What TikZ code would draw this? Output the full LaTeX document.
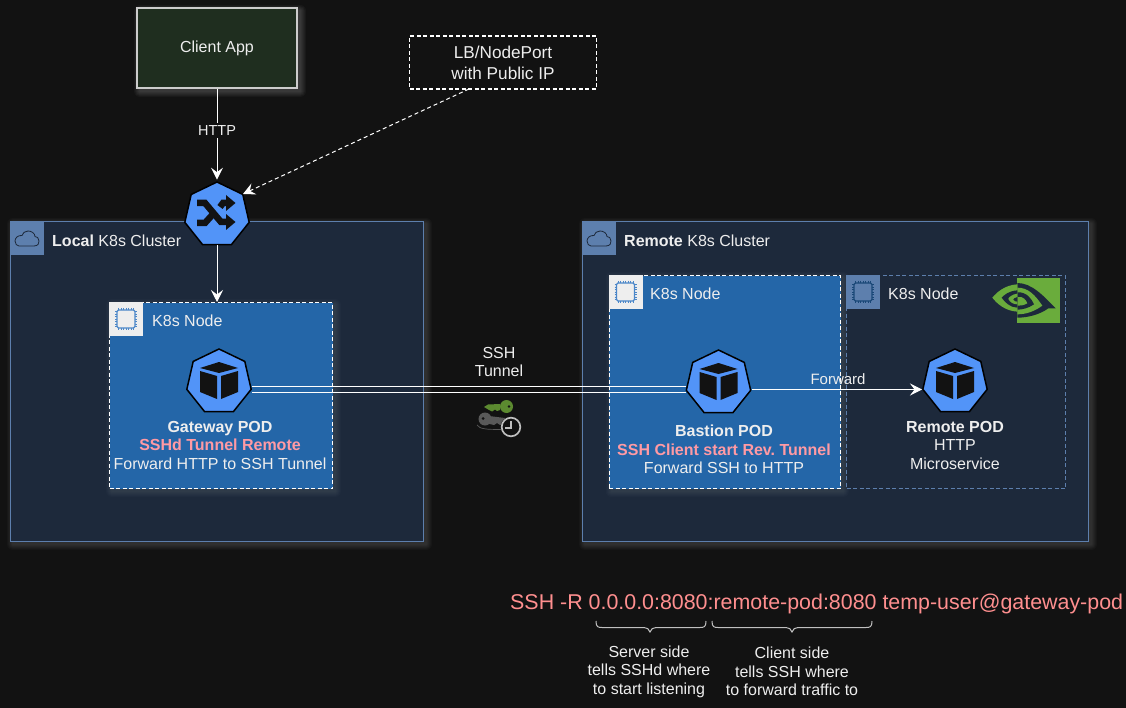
\documentclass[tikz,border=0pt]{standalone}
\usepackage{fontspec}
\setmainfont{Liberation Sans}
\usetikzlibrary{arrows.meta,shapes.geometric,calc}
\frenchspacing
\definecolor{bgc}{HTML}{121212}
\definecolor{clusterc}{HTML}{1D293B}
\definecolor{clusteredge}{HTML}{5D7FAD}
\definecolor{nodeblue}{HTML}{2466A8}
\definecolor{kube}{HTML}{5294F8}
\definecolor{pinkc}{HTML}{FF9AA4}
\definecolor{redc}{HTML}{FF8F8F}
\definecolor{txt}{HTML}{EEEEEE}
\definecolor{nvgreen}{HTML}{6AAC3C}
\definecolor{keygreen}{HTML}{5C8A30}
\definecolor{clientc}{HTML}{1F2E1F}
\definecolor{iconbg}{HTML}{EEEEEE}
\definecolor{chipblue}{HTML}{4A86C8}
\newcommand{\softglow}[5]{% x1 y1 x2 y2 opacity
  \foreach \gi in {1,...,6}{
    \fill[white,fill opacity=#5,rounded corners=\gi pt] ({#1+3-\gi},{#2+3-\gi}) rectangle ({#3+3+\gi},{#4+3+\gi});
  }}
\newcommand{\kubecube}[1]{%
  \begin{scope}[shift={(#1)}]
    \fill[bgc] (-19,-14) -- (0,-20) -- (19,-14) -- (0,-9) -- cycle;
    \fill[bgc] (-19,-11) -- (-2,-6) -- (-2,17) -- (-19,10) -- cycle;
    \fill[bgc] (2,-6) -- (19,-11) -- (19,10) -- (2,17) -- cycle;
  \end{scope}}
\newcommand{\chipicon}[3]{% corner, background, chip colour
  \begin{scope}[shift={(#1)}]
    \fill[#2] (0,0) rectangle (34,34);
    \foreach \pp in {9.5,12,14.5,17,19.5,22,24.5}{
      \draw[#3,line width=.8] (\pp,6) -- (\pp,28);
      \draw[#3,line width=.8] (6,\pp) -- (28,\pp);
    }
    \draw[#3,fill=#2,line width=1.3,rounded corners=1.5] (8,8) rectangle (26,26);
  \end{scope}}
\newcommand{\cloudicon}[1]{%
  \begin{scope}[shift={(#1)}]
    \fill[clusteredge] (0,0) rectangle (34,34);
    \draw[clusterc,line width=.8] (9,25) -- (24,25) .. controls (28,25) and (29.5,22) .. (29,20) .. controls (29,17) and (27,15.5) .. (25,15.5) .. controls (25,12) and (21,10) .. (18,10) .. controls (15,10) and (12.5,12) .. (12,14.5) .. controls (8,14) and (5,17) .. (5,20) .. controls (5,23) and (7,25) .. (9,25) -- cycle;
  \end{scope}}
\tikzset{
  lbl/.style={text=txt,inner sep=0pt,align=center,font=\fontsize{16}{18.5}\selectfont},
  lblleft/.style={lbl,anchor=west},
  kubepoly/.style={regular polygon,regular polygon sides=7,minimum size=66pt,inner sep=0pt,fill=kube,draw=black,line width=1.5pt},
  cluster/.style={draw=clusteredge,fill=clusterc,line width=1.3pt,inner sep=0pt,anchor=north west},
  k8snode/.style={draw=white,dash pattern=on 4pt off 2.5pt,line width=1.4pt,inner sep=0pt,anchor=north west},
  conn/.style={draw=white,line width=1pt,-{Stealth[length=12pt,width=12pt,inset=4.5pt]}},
  plainline/.style={draw=white,line width=1.2pt}
}
\begin{document}
\begin{tikzpicture}[x=1pt,y=-1pt]
\useasboundingbox (0,0) rectangle (1126,708);
\fill[bgc] (0,0) rectangle (1126,708);

% glows
\softglow{137}{8}{297}{88}{0.03}
\softglow{10}{221}{423}{541}{0.022}
\softglow{582}{221}{1088}{541}{0.022}

% clusters
\node[cluster,minimum width=413pt,minimum height=320pt] (localc) at (10,221) {};
\node[cluster,minimum width=506pt,minimum height=320pt] (remotec) at (582,221) {};
\cloudicon{10,221}
\cloudicon{582,221}
\node[lblleft] (localt) at (52,241) {\textbf{Local} K8s Cluster};
\node[lblleft] (remotet) at (624,241) {\textbf{Remote} K8s Cluster};

% k8s nodes
\softglow{109}{302}{332}{488}{0.015}
\softglow{608.5}{275}{840}{488}{0.015}
\node[k8snode,fill=nodeblue,minimum width=223pt,minimum height=186pt] (nodea) at (109,302) {};
\node[k8snode,fill=nodeblue,minimum width=231.5pt,minimum height=213pt] (nodeb) at (608.5,275) {};
\node[k8snode,draw=clusteredge,fill=clusterc,minimum width=219pt,minimum height=213pt] (nodec) at (846,275) {};
\chipicon{109,302}{iconbg}{chipblue}
\chipicon{608.5,275}{iconbg}{chipblue}
\chipicon{846,275}{clusteredge}{nodeblue!70!black}
\node[lblleft] (nodeat) at (152,321) {K8s Node};
\node[lblleft] (nodebt) at (650,294) {K8s Node};
\node[lblleft] (nodect) at (888,294) {K8s Node};

% NVIDIA logo
\begin{scope}[shift={(985,275)},x=.3333pt,y=-.3333pt]
  \fill[nvgreen] (97,10) rectangle (225,143);
  \fill[clusterc] (97,24) .. controls (140,24) and (175,62) .. (212,100) -- (190,100) .. controls (165,118) and (130,128) .. (97,128) -- cycle;
  \fill[nvgreen] (97,38) .. controls (130,38) and (150,60) .. (172,92) .. controls (150,108) and (125,118) .. (97,118) -- cycle;
  \fill[clusterc] (97,52) .. controls (125,50) and (140,72) .. (147,88) .. controls (130,100) and (110,104) .. (97,104) -- cycle;
  \fill[nvgreen] (97,66) .. controls (115,62) and (125,78) .. (127,85) .. controls (115,92) and (105,92) .. (97,92) -- cycle;
  \fill[nvgreen] (97,28) .. controls (60,30) and (35,52) .. (22,68) .. controls (35,85) and (60,108) .. (97,110) -- cycle;
  \fill[clusterc] (97,46) .. controls (70,48) and (58,60) .. (50,68) .. controls (58,80) and (75,98) .. (97,98) -- cycle;
  \fill[nvgreen] (97,56) .. controls (80,58) and (70,68) .. (70,72) .. controls (75,82) and (85,88) .. (97,88) -- cycle;
  \fill[clusterc] (97,66) .. controls (88,68) and (85,72) .. (85,74) .. controls (88,78) and (92,80) .. (97,80) -- cycle;
\end{scope}

% top boxes
\node[draw=white!80!black,fill=clientc,line width=1.5pt,minimum width=160pt,minimum height=80pt,inner sep=0pt,lbl] (client) at (217,48) {\raisebox{-2.5pt}{Client App}};
\node[draw=white,dash pattern=on 4pt off 2.5pt,line width=1.3pt,minimum width=187pt,minimum height=53pt,inner sep=0pt,lbl,font=\fontsize{17.2}{21}\selectfont] (lb) at (503,62.5) {LB/NodePort\\with Public IP};

% kube icons
\node[kubepoly] (lbicon) at (217,215) {};
\node[kubepoly] (gw) at (219,382) {};
\node[kubepoly] (bastion) at (718.5,383) {};
\node[kubepoly] (remote) at (955,382) {};
\kubecube{219,382}
\kubecube{718.5,383}
\kubecube{955,382}
\begin{scope}[shift={(217,215)}]
  \draw[bgc,line width=6.5pt] (-20,8) -- (-12,8) -- (-3,-2);
  \draw[bgc,line width=6.5pt] (3,-8) -- (6,-12) -- (11,-12);
  \fill[bgc] (9,-20) -- (18.5,-12) -- (9,-4) -- cycle;
  \draw[bgc,line width=6.5pt] (-20,-12) -- (-12,-12) -- (4,7) -- (11,7);
  \fill[bgc] (9,-1) -- (18.5,7) -- (9,15) -- cycle;
\end{scope}

% connectors
\draw[conn] (client.south) -- ($(lbicon.north)+(0,-1.5)$);
\node[lbl,fill=bgc,inner ysep=3pt,inner xsep=1pt,font=\fontsize{14.5}{17}\selectfont] (httpl) at (217,130.5) {HTTP};
\coordinate (lbout) at (469,89);
\coordinate (lbin) at (243,194);
\draw[conn,dash pattern=on 4pt off 3pt] (lbout) -- (lbin);
\draw[conn] (lbicon.south) -- (lbicon.south |- nodea.north);
\draw[plainline] ($(gw.center)+(33,4.5)$) -- ($(bastion.center)+(-33,3.5)$);
\draw[plainline] ($(gw.center)+(33,10.5)$) -- ($(bastion.center)+(-32.5,9.5)$);
\draw[conn] ($(bastion.center)+(33,6.5)$) -- ($(remote.center)+(-33,7.5)$);
\node[lbl,font=\fontsize{15}{17}\selectfont] (fwd) at (838,379) {Forward};
\node[lbl] (tunnel) at (499,362) {SSH\\Tunnel};

% key icon
\begin{scope}
  % green key
  \fill[keygreen] (484,407) -- (488,404.5) -- (500,404) -- (500,410) -- (497,411) -- (495,409.5) -- (492,411.5) -- (489,410) -- cycle;
  \fill[keygreen] (506.5,406.5) circle (6.5);
  \fill[bgc] (509,406.5) circle (1.4);
  % grey key
  \fill[black!65!white] (485,419) circle (6.5);
  \fill[black!65!white] (485,415.5) -- (505,418) -- (505,423.5) -- (500,425) -- (497,423) -- (494,425) -- (485,423) -- cycle;
  \fill[bgc] (483,418.5) circle (1.5);
  \draw[black!65!white,line width=.7] (477,425) .. controls (480,429) and (485,429.5) .. (502,429.5);
  % clock
  \draw[bgc,fill=bgc,line width=1] (511,427) circle (10);
  \draw[white!75!black,line width=1.7] (511,427) circle (9.3);
  \draw[white!75!black,line width=1.7] (511,421) -- (511,428) -- (505,428);
\end{scope}

% pod labels
\node[lbl] (gwl) at (220,445) {\textbf{Gateway POD}\\\textcolor{pinkc}{\textbf{SSHd Tunnel Remote}}\\Forward HTTP to SSH Tunnel};
\node[lbl] (bastl) at (724,449.5) {\textbf{Bastion POD}\\\textcolor{pinkc}{\textbf{SSH Client start Rev. Tunnel}}\\Forward SSH to HTTP};
\node[lbl] (remotel) at (955,445) {\textbf{Remote POD}\\HTTP\\Microservice};

% ssh command
\node[lblleft,text=redc,font=\fontsize{21.4}{24}\selectfont] (cmd) at (510,603.5) {SSH -R 0.0.0.0:8080:remote-pod:8080 temp-user@gateway-pod};
\draw[white!75!black,line width=1pt] (596,621) .. controls (596,627) and (598,627.5) .. (602,627.5) -- (644,627.5) .. controls (647,627.5) and (649,629) .. (650,632) .. controls (651,629) and (653,627.5) .. (656,627.5) -- (700,627.5) .. controls (704,627.5) and (706,627) .. (706,621);
\draw[white!75!black,line width=1pt] (712,621) .. controls (712,627) and (714,627.5) .. (718,627.5) -- (786,627.5) .. controls (789,627.5) and (791,629) .. (792,632) .. controls (793,629) and (795,627.5) .. (798,627.5) -- (866,627.5) .. controls (870,627.5) and (872,627) .. (872,621);
\node[lbl] (srv) at (649,671.5) {Server side\\tells SSHd where\\to start listening};
\node[lbl] (cli) at (792,671.5) {Client side\\tells SSH where\\to forward traffic to};
\end{tikzpicture}
\end{document}
